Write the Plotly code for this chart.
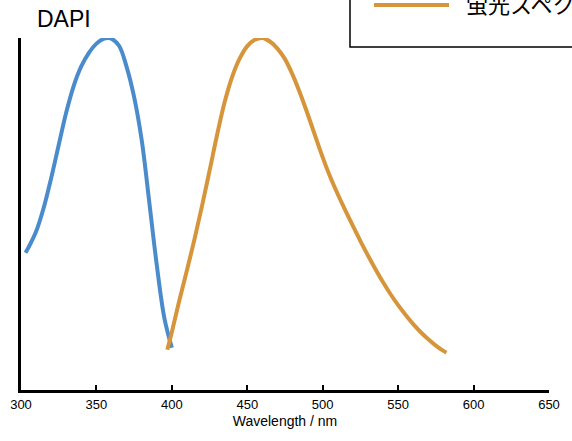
import plotly.graph_objects as go

# Absorption spectrum (blue), wavelength nm / normalized intensity
abs_wl = [303, 305, 310, 315, 320, 325, 330, 335, 340, 345, 350, 355, 358, 360, 365, 370, 375,
          380, 385, 390, 395, 400]
abs_val = [0.39, 0.405, 0.45, 0.517, 0.602, 0.696, 0.789, 0.865, 0.92, 0.958, 0.984, 0.998, 1.0,
           0.998, 0.978, 0.918, 0.832, 0.71, 0.535, 0.355, 0.205, 0.12]

# Fluorescence spectrum (orange)
em_wl = [397, 400, 405, 410, 415, 420, 425, 430, 435, 440, 445, 450, 455, 460, 465, 470, 475, 480,
         485, 490, 495, 500, 505, 510, 515, 520, 525, 530, 535, 540, 545, 550, 555, 560, 565, 570,
         575, 580, 582]
em_val = [0.114, 0.165, 0.255, 0.34, 0.428, 0.523, 0.623, 0.725, 0.818, 0.89, 0.942, 0.977, 0.995,
          1.0, 0.99, 0.97, 0.94, 0.896, 0.843, 0.784, 0.722, 0.661, 0.605, 0.556, 0.51, 0.466,
          0.423, 0.382, 0.343, 0.306, 0.272, 0.241, 0.213, 0.187, 0.164, 0.144, 0.126, 0.111, 0.106]

x_ticks = [300, 350, 400, 450, 500, 550, 600, 650]

BLUE = "#4a8ccb"
ORANGE = "#d6953a"

fig = go.Figure()
fig.add_trace(go.Scatter(x=abs_wl, y=abs_val, mode="lines", name="吸収スペクトル",
                         line=dict(color=BLUE, width=4, shape="spline", smoothing=1.0),
                         showlegend=False))
fig.add_trace(go.Scatter(x=em_wl, y=em_val, mode="lines", name="蛍光スペクトル",
                         line=dict(color=ORANGE, width=4, shape="spline", smoothing=1.0),
                         showlegend=False))

W, H = 572, 441
ml, mr, mt, mb = 21, 23, 38, 51
pw, ph = W - ml - mr, H - mt - mb

def px_x(p):
    return (p - ml) / pw

def px_y(p):
    return (H - mb - p) / ph

# Legend box (partially cropped at the top right, as in the reference)
fig.add_shape(type="rect", xref="paper", yref="paper",
              x0=px_x(350), x1=px_x(620), y0=px_y(47), y1=px_y(-60),
              line=dict(color="black", width=1.5), fillcolor="rgba(0,0,0,0)")
fig.add_shape(type="line", xref="paper", yref="paper",
              x0=px_x(374), x1=px_x(449), y0=px_y(5), y1=px_y(5),
              line=dict(color=ORANGE, width=4))
fig.add_annotation(xref="paper", yref="paper", x=px_x(464), y=px_y(3),
                   xanchor="left", yanchor="middle", showarrow=False,
                   text="蛍光スペクトル",
                   font=dict(family="Noto Sans CJK JP", size=22, color="black"))

# Title
fig.add_annotation(xref="paper", yref="paper", x=px_x(35), y=px_y(19),
                   xanchor="left", yanchor="middle", showarrow=False,
                   text="DAPI",
                   font=dict(family="Liberation Sans, Arial", size=23, color="black"))

fig.update_layout(
    width=W, height=H,
    margin=dict(l=ml, r=mr, t=mt, b=mb, pad=0, autoexpand=False),
    paper_bgcolor="white", plot_bgcolor="white",
    font=dict(family="Liberation Sans, Arial", color="black"),
    showlegend=False,
    xaxis=dict(range=[300, 650], tickvals=x_ticks, ticktext=[str(t) for t in x_ticks],
               showgrid=False, zeroline=False, showline=True, linecolor="black", linewidth=3,
               ticks="inside", ticklen=5, tickwidth=2, tickcolor="black",
               tickfont=dict(size=13), title=dict(text="Wavelength / nm", font=dict(size=14), standoff=6)),
    yaxis=dict(range=[0, 1], showgrid=False, zeroline=False, showline=True, linecolor="black",
               linewidth=3, showticklabels=False, ticks=""),
)

fig.write_html("out.html", config={"displayModeBar": False},
               post_script="document.body.style.margin='0';document.body.style.overflow='hidden';")
